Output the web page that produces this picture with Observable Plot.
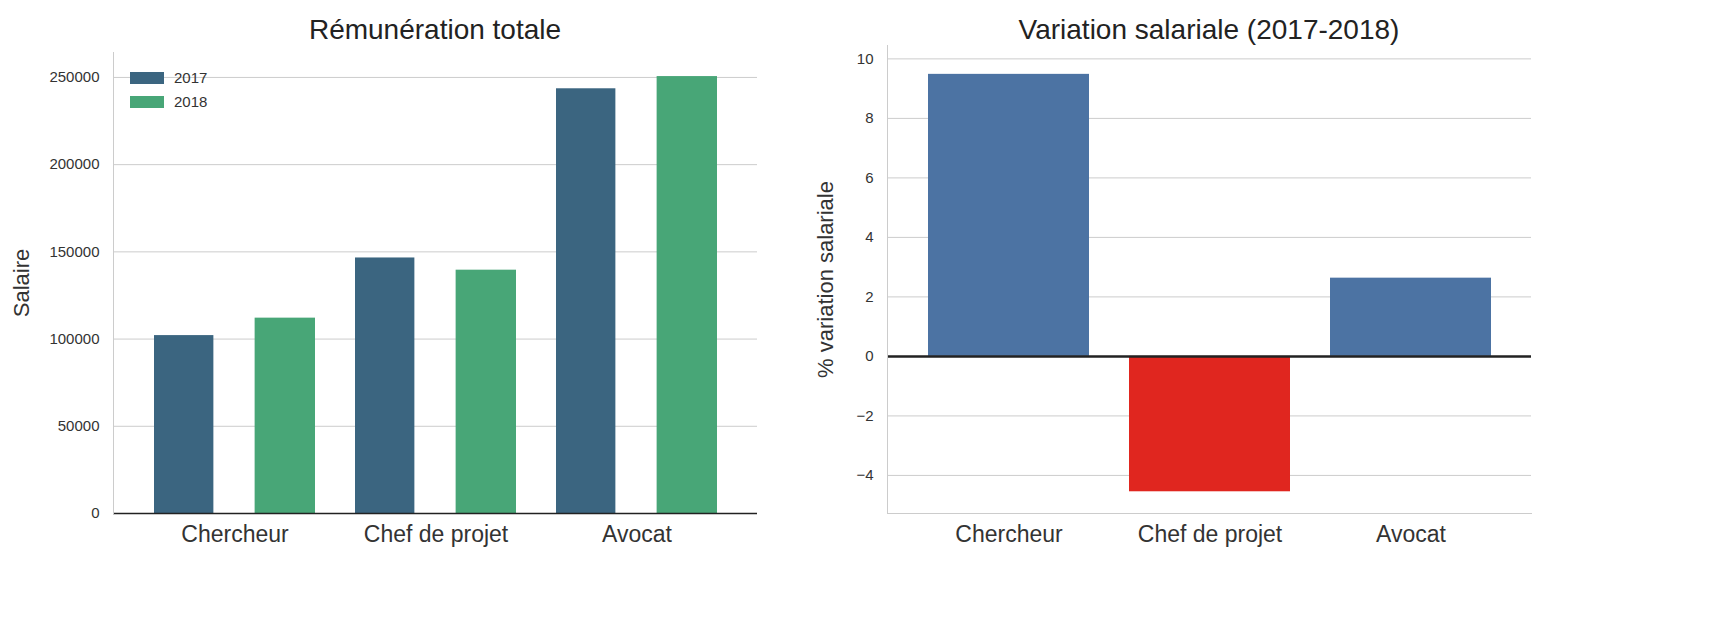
<!DOCTYPE html>
<html><head><meta charset="utf-8">
<script src="https://cdn.jsdelivr.net/npm/d3@7"></script>
<script src="https://cdn.jsdelivr.net/npm/@observablehq/plot@0.6"></script>
<style>
body{margin:0;background:#fff;font-family:"Liberation Sans",Arial,sans-serif;}
#wrap{position:relative;width:1725px;height:624px;display:flex;}
.leg{position:absolute;left:130px;top:66px;font-size:15px;color:#333;line-height:24px}
.leg span{display:inline-block;width:34px;height:12px;margin-right:10px;vertical-align:-1px}
.ttl{position:absolute;top:14px;font-size:28px;color:#222;text-align:center}
</style></head><body>
<div id="wrap"><div id="a"></div><div id="b"></div>
<div class="ttl" style="left:113px;width:644px">Rémunération totale</div>
<div class="ttl" style="left:887px;width:644px">Variation salariale (2017-2018)</div>
<div class="leg"><div><span style="background:#3b6580"></span>2017</div><div><span style="background:#48a677"></span>2018</div></div>
</div>
<script>
const categories = ["Chercheur","Chef de projet","Avocat"];
const years = ["2017","2018"];
const salary2017 = [102000,146500,243500];
const salary2018 = [112000,139500,250500];
const variation = [9.48,-4.55,2.63];
const leftTicks = [0,50000,100000,150000,200000,250000];
const rightTicks = [-4,-2,0,2,4,6,8,10];

const s17 = categories.map((c,i)=>({cat:c,v:salary2017[i]}));
const s18 = categories.map((c,i)=>({cat:c,v:salary2018[i]}));
const vari = categories.map((c,i)=>({cat:c,v:variation[i]}));
const st = {fontFamily:"Liberation Sans, Arial, sans-serif",fontSize:"15px",color:"#333",background:"#fff"};
const half = 644/3.2/2; // half bandwidth in px

const A = Plot.plot({
  width:780,height:624,marginLeft:113,marginRight:23,marginTop:52,marginBottom:111,
  style:st,
  x:{domain:categories,padding:0.2,label:null},
  y:{domain:[0,264300],label:"Salaire"},
  marks:[
    Plot.gridY(leftTicks,{stroke:"#ccc",strokeOpacity:1}),
    Plot.barY(s17,{x:"cat",y:"v",fill:"#3b6580",insetRight:half+1}),
    Plot.barY(s18,{x:"cat",y:"v",fill:"#48a677",insetLeft:half}),
    Plot.ruleY([0],{stroke:"#222",strokeWidth:1.5}),
    Plot.frame({anchor:"left",stroke:"#ccc"}),
    Plot.axisY({ticks:leftTicks,tickFormat:d=>String(d),tickSize:0,tickPadding:14,label:"Salaire",labelAnchor:"center",labelArrow:"none",labelOffset:100,fontSize:15}),
    Plot.axisX({tickSize:0,tickPadding:12,fontSize:23,label:null})
  ]
});
document.getElementById("a").appendChild(A);

const B = Plot.plot({
  width:945,height:624,marginLeft:107,marginRight:194,marginTop:45,marginBottom:111,
  style:st,
  x:{domain:categories,padding:0.2,label:null},
  y:{domain:[-5.28,10.45],label:"% variation salariale"},
  marks:[
    Plot.gridY(rightTicks,{stroke:"#ccc",strokeOpacity:1}),
    Plot.barY(vari,{x:"cat",y:"v",fill:d=>d.v<0?"#e0261f":"#4c73a3"}),
    Plot.ruleY([0],{stroke:"#222",strokeWidth:2.5}),
    Plot.frame({anchor:"bottom",stroke:"#ccc"}),
    Plot.frame({anchor:"left",stroke:"#ccc"}),
    Plot.axisY({ticks:rightTicks,tickFormat:d=>d<0?"−"+(-d):String(d),tickSize:0,tickPadding:14,label:"% variation salariale",labelAnchor:"center",labelArrow:"none",labelOffset:70,fontSize:15}),
    Plot.axisX({tickSize:0,tickPadding:12,fontSize:23,label:null})
  ]
});
document.getElementById("b").appendChild(B);
document.querySelectorAll("[aria-label='y-axis label']").forEach(g=>{g.setAttribute("font-size","22");g.querySelectorAll("text").forEach(t=>t.setAttribute("font-size","22"));});
</script></body></html>
